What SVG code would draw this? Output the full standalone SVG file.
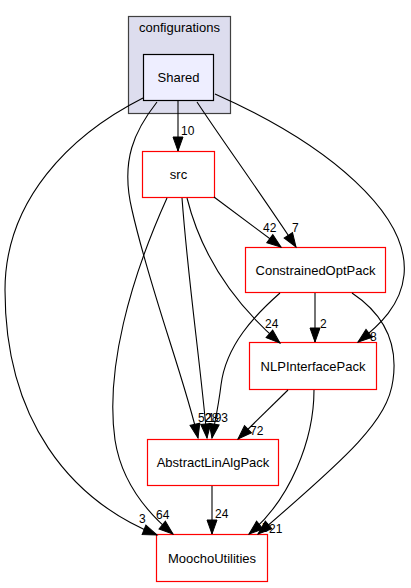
<svg xmlns="http://www.w3.org/2000/svg" width="411" height="588" viewBox="0 0 411 588">
<style>
text{font-family:"Liberation Sans",Arial,Helvetica,sans-serif;fill:#000}
.nl{font-size:13px;text-anchor:middle}
.el{font-size:12px}
.node{fill:#fff;stroke:#ff0000;stroke-width:1.2}
.edge{fill:none;stroke:#000;stroke-width:1.1;marker-end:url(#ah)}
</style>
<defs>
<marker id="ah" markerUnits="userSpaceOnUse" markerWidth="16" markerHeight="12" refX="14" refY="5" orient="auto" overflow="visible">
<path d="M0,0 L14,5 L0,10 z" fill="#000" stroke="#000" stroke-width="1"/>
</marker>
</defs>
<rect width="411" height="588" fill="#fff"/>
<g id="cluster_configurations">
<rect x="128.5" y="16.5" width="102" height="97" fill="#ddddee" stroke="#404040" stroke-width="1.2"/>
<text class="nl" x="179.5" y="32">configurations</text>
</g>
<g id="node_Shared">
<rect x="143.5" y="54.5" width="70" height="46" fill="#eeeeff" stroke="#000" stroke-width="1.2"/>
<text class="nl" x="178.5" y="82">Shared</text>
</g>
<g id="node_src">
<rect class="node" x="142.5" y="151.5" width="72" height="46"/>
<text class="nl" x="178.5" y="179">src</text>
</g>
<g id="node_ConstrainedOptPack">
<rect class="node" x="245.5" y="247.5" width="140" height="45"/>
<text class="nl" x="315.5" y="274.5">ConstrainedOptPack</text>
</g>
<g id="node_NLPInterfacePack">
<rect class="node" x="249.5" y="342.5" width="127" height="47"/>
<text class="nl" x="313" y="370.5">NLPInterfacePack</text>
</g>
<g id="node_AbstractLinAlgPack">
<rect class="node" x="147.5" y="439.5" width="131" height="46"/>
<text class="nl" x="213" y="467">AbstractLinAlgPack</text>
</g>
<g id="node_MoochoUtilities">
<rect class="node" x="156.5" y="534.5" width="111" height="47"/>
<text class="nl" x="212" y="562.5">MoochoUtilities</text>
</g>
<g id="connectors">
<text class="el" x="262" y="532">5</text>
<path class="edge" d="M178,101 L178,151"/>
<text class="el" x="181" y="135">10</text>
<path class="edge" d="M197,102 C222,140 262,195 296,247"/>
<text class="el" x="292" y="232">7</text>
<path class="edge" d="M215,94 C330,145 410,215 404,275 C401,305 380,325 358,342"/>
<text class="el" x="370" y="341">8</text>
<path class="edge" d="M157,102 C135,130 120,160 132,210 C150,290 185,380 198,438"/>
<text class="el" x="198" y="422">52</text>
<path class="edge" d="M143,98 C70,135 5,200 5,290 C5,420 70,500 157,535"/>
<text class="el" x="139" y="523">3</text>
<path class="edge" d="M214,197 L281,247"/>
<text class="el" x="263" y="232">42</text>
<path class="edge" d="M187,198 C200,250 230,300 280,343"/>
<text class="el" x="265" y="328">24</text>
<path class="edge" d="M182,198 C188,280 200,360 207,438"/>
<text class="el" x="205" y="422">28</text>
<path class="edge" d="M167,198 C130,280 105,370 115,440 C122,485 150,515 173,534"/>
<text class="el" x="156" y="519">64</text>
<path class="edge" d="M315,293 L315,342"/>
<text class="el" x="320" y="328">2</text>
<path class="edge" d="M280,293 C255,315 226,345 221,385 C218,410 214,425 212,438"/>
<text class="el" x="208" y="422">193</text>
<path class="edge" d="M352,293 C385,315 398,345 393,380 C388,420 350,455 258,534"/>
<text class="el" x="269" y="533">21</text>
<path class="edge" d="M314,390 C314,440 290,500 249,534"/>
<path class="edge" d="M288,390 L238,439"/>
<text class="el" x="250" y="435">72</text>
<path class="edge" d="M212,486 L212,534"/>
<text class="el" x="215" y="518">24</text>
</g>
</svg>
